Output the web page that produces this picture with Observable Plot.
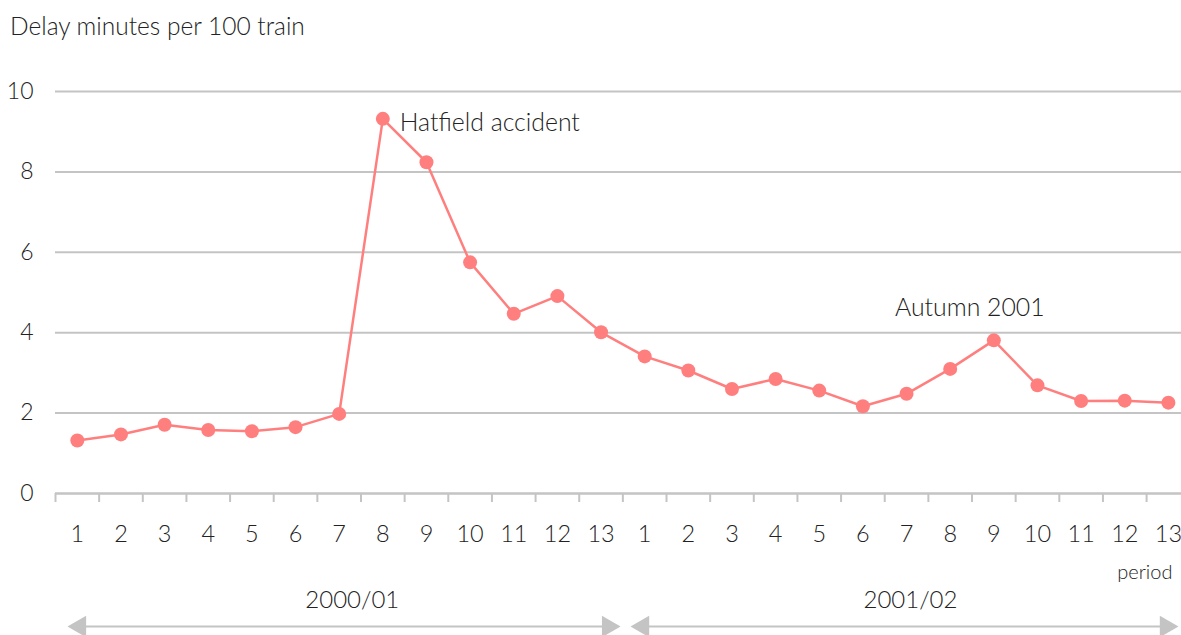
<!DOCTYPE html>
<html>
<head>
<meta charset="utf-8">
<script src="https://cdn.jsdelivr.net/npm/d3@7"></script>
<script src="https://cdn.jsdelivr.net/npm/@observablehq/plot@0.6"></script>
<style>
  html, body { margin: 0; padding: 0; background: #fff; }
  #wrap { width: 1181px; height: 635px; font-family: Lato, "Open Sans", sans-serif; font-weight: 300; color: #222; }
  #title { height: 47px; padding: 13px 0 0 10px; font-size: 24.5px; line-height: 26px; box-sizing: content-box; }
</style>
</head>
<body>
<div id="wrap">
  <div id="title">Delay minutes per 100 train</div>
  <div id="chart"></div>
</div>
<script>
// ---- data ----
const periods = [1,2,3,4,5,6,7,8,9,10,11,12,13, 1,2,3,4,5,6,7,8,9,10,11,12,13];
const delay = [1.32,1.47,1.71,1.58,1.55,1.65,1.98,9.32,8.24,5.75,4.47,4.91,4.01,
               3.41,3.06,2.60,2.85,2.56,2.17,2.48,3.10,3.81,2.69,2.30,2.31,2.26];
const yTicks = [0,2,4,6,8,10];
const years = ["2000/01", "2001/02"];
const annotations = [
  {label: "Hatfield accident", index: 8},
  {label: "Autumn 2001", index: 22}
];

// ---- build ----
const data = delay.map((v, i) => ({i: i + 1, period: periods[i], v}));
const idx = data.map(d => d.i);
const tickPos = idx.map(i => i - 0.5);
const yearSpans = [
  {label: years[0], x1: 0.775, x2: 13.447, xl: 7.3},
  {label: years[1], x1: 13.676, x2: 26.23, xl: 20.09}
];
const gray = "#c4c4c4";
const red = "#ff7f7f";
const font = 'Lato, "Open Sans", sans-serif';
const annoData = annotations.map(a => ({...a, v: delay[a.index - 1]}));

const chart = Plot.plot({
  width: 1181,
  height: 575,
  marginLeft: 55,
  marginRight: 0,
  marginTop: 31,
  marginBottom: 142,
  x: {type: "linear", domain: [0.5, 26.3]},
  y: {domain: [0, 10]},
  style: {fontFamily: font, fontWeight: 300, color: "#222", background: "transparent", overflow: "visible"},
  marks: [
    Plot.gridY(yTicks, {stroke: gray, strokeOpacity: 1, strokeWidth: 2}),
    Plot.axisY(yTicks, {tickSize: 0, tickPadding: 22, fontSize: 23, label: null}),
    Plot.axisX(tickPos, {tickSize: 9, tickFormat: () => "", stroke: gray, strokeWidth: 2, label: null}),
    Plot.axisX(idx, {tickSize: 0, tickPadding: 32, fontSize: 23.5, label: null, tickFormat: i => String(periods[i - 1])}),
    Plot.ruleY([0], {stroke: gray, strokeWidth: 2}),
    Plot.line(data, {x: "i", y: "v", stroke: red, strokeWidth: 2.5}),
    Plot.dot(data, {x: "i", y: "v", r: 7, fill: red, stroke: "none"}),
    Plot.text(annoData.slice(0, 1), {x: "index", y: "v", text: "label", textAnchor: "start", dx: 17, dy: 4, fontSize: 24.8, fill: "#222"}),
    Plot.text(annoData.slice(1), {x: "index", y: "v", text: "label", textAnchor: "middle", dx: -24, dy: -32, fontSize: 24.8, fill: "#222"}),
    Plot.text(["period"], {frameAnchor: "bottom-right", dx: -9, dy: 85, textAnchor: "end", fontSize: 20, fill: "#222"}),
    Plot.text(yearSpans, {x: "xl", frameAnchor: "bottom", text: "label", dy: 114, fontSize: 24, fill: "#222"}),
    Plot.ruleY(yearSpans, {x1: "x1", x2: "x2", y: () => 0, dy: 133, stroke: gray, strokeWidth: 2, insetLeft: 8, insetRight: 8}),
    Plot.dot(yearSpans, {x: "x1", frameAnchor: "bottom", dy: 133, dx: 12.4, symbol: "triangle", rotate: -90, r: 8, fill: gray, stroke: "none"}),
    Plot.dot(yearSpans, {x: "x2", frameAnchor: "bottom", dy: 133, dx: -12.4, symbol: "triangle", rotate: 90, r: 8, fill: gray, stroke: "none"})
  ]
});
document.getElementById("chart").appendChild(chart);
</script>
</body>
</html>
